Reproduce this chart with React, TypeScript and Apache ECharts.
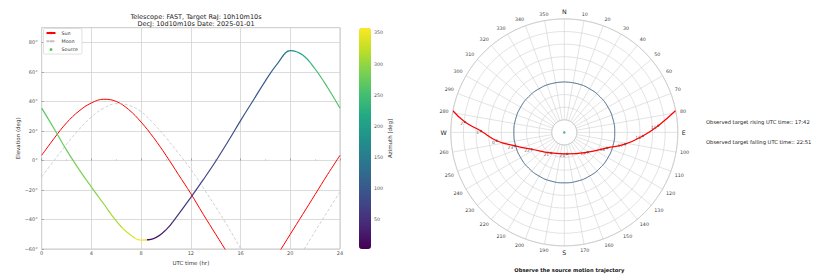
import React, { useEffect, useRef } from 'react';
import * as echarts from 'echarts';

// ---- data ----
const hours = [0, 1, 2, 3, 4, 5, 6, 7, 8, 9, 10, 11, 12, 13, 14, 15, 16, 17, 18, 19, 20, 21, 22, 23, 24];
const sunElev = [3.5, 15, 25.5, 33.5, 39, 41.5, 40, 34.5, 26, 15.5, 3.5, -9.5, -22.5, -36.5, -50, -63.5, -77, -86, -77, -63.5, -50, -36.5, -23, -9.5, 3.5];
const moonElev = [-11, 0, 11, 21, 29.5, 35.5, 38.5, 37.5, 33, 25, 15.5, 5, -6, -18.5, -31.5, -45, -59.5, -72, -80, -80, -73, -61.5, -48, -34.5, -21.3];
const sourceElev = [35.5, 21.5, 7, -6, -18, -29.5, -41, -49.5, -54, -53, -47, -36.5, -25, -13, -0.5, 13, 27, 40.5, 54, 66, 74.5, 71.5, 62, 49.5, 35.5];
const sourceAz = [264, 271, 277, 284, 291, 300, 312, 330, 352, 17, 38, 53, 64, 72, 79, 85, 92, 99, 109, 126, 164, 215, 242, 256, 264];

const hourTicks = [0, 4, 8, 12, 16, 20, 24];
const azTicks = [50, 100, 150, 200, 250, 300, 350];
const azMin = 2;
const azMax = 358;

// polar sky track of the source: zenith distance (deg) and azimuth (deg)
const trackZenith = [90, 79.2, 66.1, 54, 40.5, 29.1, 19.4, 17.2, 24.3, 36, 49, 62.3, 74.7, 90];
const trackAz = [281, 276, 271, 263, 254.7, 242.7, 213, 172.8, 130.2, 110, 101, 92.6, 85.9, 78.9];
const trackLabels = ['', '2', '1', '0', '23', '22', '21', '20', '19', '18', '17', '16', '15', ''];
const zenithLimit = 40;
const limitAz = [0, 15, 30, 45, 60, 75, 90, 105, 120, 135, 150, 165, 180, 195, 210, 225, 240, 255, 270, 285, 300, 315, 330, 345, 360];
const compass: Record<number, string> = { 0: 'N', 90: 'E', 180: 'S', 270: 'W' };

const riseText = 'Observed target rising UTC time:: 17:42';
const fallText = 'Observed target falling UTC time:: 22:51';

const viridis = ['#440154', '#482475', '#414487', '#355f8d', '#2a788e', '#21918c', '#22a884', '#44bf70', '#7ad151', '#bddf26', '#fde725'];

function hexToRgb(h: string) {
  const n = parseInt(h.slice(1), 16);
  return [(n >> 16) & 255, (n >> 8) & 255, n & 255];
}
function viridisAt(t: number) {
  const c = Math.max(0, Math.min(1, t)) * (viridis.length - 1);
  const i = Math.min(viridis.length - 2, Math.floor(c));
  const f = c - i;
  const a = hexToRgb(viridis[i]);
  const b = hexToRgb(viridis[i + 1]);
  const m = a.map((v, k) => Math.round(v + (b[k] - v) * f));
  return `rgb(${m[0]},${m[1]},${m[2]})`;
}

const FONT = 'DejaVu Sans';
const CX = 564.3;
const CY = 132.4;
const R = 113.5;

export default function App() {
  const ref = useRef<HTMLDivElement>(null);
  useEffect(() => {
    if (!ref.current) return;
    const chart = echarts.init(ref.current, undefined, { renderer: 'svg' });

    const pieces = hours.map((h, i) => ({
      gte: h - 0.5,
      lt: h + 0.5,
      color: viridisAt((sourceAz[i] - azMin) / (azMax - azMin)),
    }));

    const option: any = {
      animation: false,
      textStyle: { fontFamily: FONT },
      title: [
        {
          text: 'Telescope: FAST, Target RaJ: 10h10m10s\nDecJ: 10d10m10s Date: 2025-01-01',
          left: 191,
          top: 8,
          textAlign: 'center',
          textStyle: { fontSize: 6.5, fontWeight: 'normal', color: '#222', lineHeight: 7.2, fontFamily: FONT },
        },
        {
          text: 'Observe the source motion trajectory',
          left: CX,
          top: 262.5,
          textAlign: 'center',
          textStyle: { fontSize: 5.2, fontWeight: 'bold', color: '#111', fontFamily: FONT },
        },
      ],
      legend: {
        orient: 'vertical',
        left: 43.5,
        top: 28.5,
        itemWidth: 9,
        itemHeight: 3,
        itemGap: 3.3,
        padding: [2, 4, 2, 2],
        borderColor: '#ccc',
        borderWidth: 0.6,
        borderRadius: 1.5,
        backgroundColor: '#fff',
        textStyle: { fontSize: 4.8, color: '#333', fontFamily: FONT, padding: [0, 0, 0, 1] },
        data: [
          { name: 'Sun' },
          { name: 'Moon' },
          { name: 'Source', icon: 'circle', itemStyle: { color: '#5ec962' } },
        ],
      },
      grid: [
        { left: 41.7, top: 27.7, width: 298.3, height: 221.3, show: true, borderColor: '#bbb', borderWidth: 0.8, containLabel: false },
        { left: 359, top: 28, width: 12, height: 221, containLabel: false },
      ],
      xAxis: [
        {
          gridIndex: 0,
          type: 'value',
          min: 0,
          max: 24,
          interval: 4,
          name: 'UTC time (hr)',
          nameLocation: 'middle',
          nameGap: 1.5,
          nameTextStyle: { fontSize: 5.5, color: '#333' },
          axisLine: { show: false },
          axisTick: { show: true, inside: true, length: 2, lineStyle: { color: '#777', width: 0.6 }, customValues: hourTicks },
          minorTick: { show: true, splitNumber: 2, length: 1.2, lineStyle: { color: '#999', width: 0.5 } },
          axisLabel: { fontSize: 5, color: '#555', margin: 1.5, customValues: hourTicks },
          splitLine: { show: true, lineStyle: { color: '#d2d2d2', width: 0.8 } },
        },
        { gridIndex: 1, type: 'value', min: 0, max: 1, show: false },
      ],
      yAxis: [
        {
          gridIndex: 0,
          type: 'value',
          min: -60,
          max: 90,
          interval: 20,
          name: 'Elevation (deg)',
          nameLocation: 'middle',
          nameRotate: 90,
          nameGap: 11,
          nameTextStyle: { fontSize: 5.5, color: '#333' },
          axisLine: { show: false },
          axisTick: { show: true, inside: true, length: 2, lineStyle: { color: '#777', width: 0.6 } },
          axisLabel: {
            fontSize: 5,
            color: '#555',
            margin: 4,
            showMaxLabel: false,
            formatter: (v: number) => (v < 0 ? '\u2212' + -v : String(v)) + '\u00b0',
          },
          splitLine: { show: true, lineStyle: { color: '#d2d2d2', width: 0.8 } },
        },
        {
          gridIndex: 1,
          type: 'value',
          position: 'right',
          min: azMin,
          max: azMax,
          name: 'Azimuth [deg]',
          nameLocation: 'middle',
          nameRotate: 90,
          nameGap: 13,
          nameTextStyle: { fontSize: 5.5, color: '#333' },
          axisLine: { show: false },
          splitLine: { show: false },
          axisTick: { show: true, length: 1.5, lineStyle: { color: '#777', width: 0.5 }, customValues: azTicks },
          axisLabel: { fontSize: 4.8, color: '#555', margin: 3, customValues: azTicks },
        },
      ],
      polar: [
        { center: [CX, CY], radius: [R * 10 / 90, R] },
        { center: [CX, CY], radius: R },
      ],
      angleAxis: [
        {
          polarIndex: 0,
          type: 'value',
          min: 0,
          max: 360,
          interval: 10,
          startAngle: 90,
          clockwise: true,
          axisLine: { lineStyle: { color: '#c4c4c4', width: 0.7 } },
          axisTick: { show: false },
          splitLine: { show: true, lineStyle: { color: '#d0d0d0', width: 0.6 } },
          axisLabel: {
            margin: 4,
            fontSize: 4.8,
            color: '#444',
            formatter: (v: number) => (compass[v] ? '{c|' + compass[v] + '}' : String(v)),
            rich: { c: { fontSize: 6.3, color: '#222', fontFamily: FONT } },
          },
        },
        {
          polarIndex: 1,
          type: 'value',
          min: 0,
          max: 360,
          startAngle: 90,
          clockwise: true,
          axisLine: { show: false },
          axisTick: { show: false },
          axisLabel: { show: false },
          splitLine: { show: false },
        },
      ],
      radiusAxis: [
        {
          polarIndex: 0,
          type: 'value',
          min: 10,
          max: 90,
          interval: 10,
          axisLine: { show: false },
          axisTick: { show: false },
          axisLabel: { show: false },
          splitLine: { show: true, lineStyle: { color: '#d0d0d0', width: 0.6 } },
        },
        {
          polarIndex: 1,
          type: 'value',
          min: 0,
          max: 90,
          axisLine: { show: false },
          axisTick: { show: false },
          axisLabel: { show: false },
          splitLine: { show: false },
        },
      ],
      visualMap: [
        {
          type: 'continuous',
          min: azMin,
          max: azMax,
          seriesIndex: 3,
          dimension: 1,
          show: true,
          calculable: false,
          left: 359,
          top: 28,
          itemWidth: 12,
          itemHeight: 221,
          padding: 0,
          inRange: { color: viridis },
        },
        {
          type: 'piecewise',
          show: false,
          seriesIndex: 2,
          dimension: 0,
          pieces,
        },
      ],
      graphic: [
        { type: 'text', left: 706, top: 119.5, style: { text: riseText, fontSize: 5.2, fill: '#222', fontFamily: FONT } },
        { type: 'text', left: 706, top: 139.5, style: { text: fallText, fontSize: 5.2, fill: '#222', fontFamily: FONT } },
      ],
      series: [
        {
          name: 'Sun',
          type: 'line',
          xAxisIndex: 0,
          yAxisIndex: 0,
          data: hours.map((h, i) => [h, sunElev[i]]),
          smooth: 0.4,
          symbol: 'none',
          color: '#ff0000',
          lineStyle: { color: '#ff0000', width: 1 },
          clip: true,
        },
        {
          name: 'Moon',
          type: 'line',
          xAxisIndex: 0,
          yAxisIndex: 0,
          data: hours.map((h, i) => [h, moonElev[i]]),
          smooth: 0.4,
          symbol: 'none',
          color: '#c4c4c4',
          lineStyle: { color: '#c4c4c4', width: 0.8, type: [3, 2] },
          clip: true,
        },
        {
          name: 'Source',
          type: 'line',
          xAxisIndex: 0,
          yAxisIndex: 0,
          data: hours.map((h, i) => [h, sourceElev[i], sourceAz[i]]),
          smooth: 0.4,
          symbol: 'none',
          lineStyle: { width: 1.2 },
          clip: true,
        },
        {
          name: 'colorbar',
          type: 'scatter',
          xAxisIndex: 1,
          yAxisIndex: 1,
          data: [],
        },
        {
          name: 'limit',
          type: 'line',
          coordinateSystem: 'polar',
          polarIndex: 1,
          data: limitAz.map((a) => [zenithLimit, a]),
          smooth: true,
          symbol: 'none',
          lineStyle: { color: '#3b6186', width: 0.8 },
        },
        {
          name: 'track',
          type: 'line',
          coordinateSystem: 'polar',
          polarIndex: 1,
          data: trackAz.map((a, i) => [trackZenith[i], a]),
          smooth: true,
          symbol: 'none',
          lineStyle: { color: '#ff0000', width: 1.2 },
        },
        {
          name: 'hours',
          type: 'scatter',
          coordinateSystem: 'polar',
          polarIndex: 1,
          data: trackAz.map((a, i) => [trackZenith[i], a]).slice(1, -1),
          symbolSize: 2.5,
          itemStyle: { color: '#1f8f7f' },
          label: {
            show: true,
            position: 'left',
            distance: 0.5,
            offset: [0, 1.5],
            fontSize: 4.5,
            color: '#333',
            formatter: (p: any) => trackLabels[p.dataIndex + 1],
          },
        },
        {
          name: 'zenith',
          type: 'scatter',
          coordinateSystem: 'polar',
          polarIndex: 1,
          data: [[0, 0]],
          symbolSize: 2.5,
          itemStyle: { color: '#20a486' },
        },
      ],
    };
    chart.setOption(option);
    return () => chart.dispose();
  }, []);
  return <div ref={ref} style={{ position: 'absolute', left: 0, top: 0, width: 830, height: 277 }} />;
}
